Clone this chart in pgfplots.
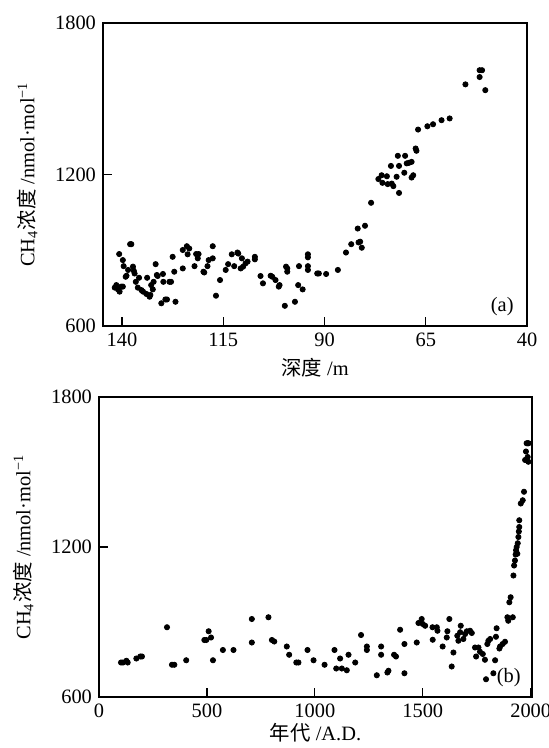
\documentclass[border=0pt]{standalone}
\usepackage{pgfplots}
\pgfplotsset{compat=1.18}
\usepackage{fontspec}
\setmainfont{Liberation Serif}
\newfontfamily\cjk{Noto Sans CJK SC}

\pgfplotsset{
  ch4/.style={
    scale only axis,
    tick align=inside,
    tick pos=left,
    major tick length=4.5pt,
    axis line style={line width=0.6pt},
    tick style={line width=0.6pt, black},
    ymin=600, ymax=1800,
    ytick={600,1200,1800},
    /pgf/number format/assume math mode=true,
    /pgf/number format/1000 sep={},
    tick label style={font=\fontsize{10.2}{12}\selectfont},
    label style={font=\fontsize{10.2}{12}\selectfont},
    ylabel={CH\textsubscript{4}{\cjk 浓度} /nmol·mol\textsuperscript{−1}},
    ylabel style={yshift=2pt},
    xlabel style={yshift=1pt},
  },
  dots/.style={only marks, mark=*, mark size=1.3pt, black},
}

\begin{document}
\begin{tikzpicture}
\useasboundingbox (0,0) rectangle (274.5pt,-374pt);

% (a) depth profile
\begin{axis}[ch4,
  at={(51.5pt,-163pt)}, anchor=south west,
  width=212pt, height=151.5pt,
  x dir=reverse, xmin=40, xmax=144.7,
  xtick={140,115,90,65,40},
  xlabel={{\cjk 深度} /m},
]
\addplot[dots] table {
x y
141.8 752
141.4 762
141.0 745
140.6 736
140.2 756
139.8 756
140.7 885
139.8 861
139.6 837
138.9 799
139.1 795
138.5 822
138.0 924
137.7 924
137.3 835
137.1 819
136.9 808
136.6 775
135.8 791
136.1 752
135.2 742
134.8 736
134.0 727
133.8 791
133.2 716
132.8 762
133.0 723
132.4 745
132.2 775
131.7 845
131.4 802
131.2 798
130.3 690
129.9 806
129.8 775
129.3 705
128.9 705
128.3 775
127.9 775
127.5 874
127.1 815
126.8 696
125.0 901
125.0 828
124.0 916
123.8 884
123.4 907
122.1 837
121.7 885
121.3 868
121.1 885
119.9 815
119.7 812
118.9 837
118.6 861
117.6 916
117.6 868
116.8 720
115.8 782
114.4 822
113.8 845
112.9 884
112.3 837
111.5 891
111.3 887
110.4 868
110.7 828
110.1 835
109.5 848
109.0 855
107.2 874
107.2 864
105.8 798
105.2 769
103.3 799
102.9 795
102.1 782
101.3 756
101.1 762
99.8 680
99.5 835
99.2 828
99.2 815
97.3 696
96.3 837
96.5 762
95.4 745
94.1 884
94.1 872
94.1 837
94.1 822
91.8 808
91.4 808
89.6 806
86.7 822
84.7 891
83.4 924
81.8 986
81.6 931
81.2 934
80.8 910
80.0 997
78.5 1088
76.7 1182
75.9 1197
75.7 1167
74.6 1193
74.4 1162
73.6 1234
73.4 1164
73.0 1154
72.2 1191
71.9 1274
71.6 1234
71.6 1127
70.3 1207
70.1 1274
69.7 1244
69.2 1246
68.5 1250
68.5 1188
68.1 1197
67.5 1303
67.3 1294
66.9 1378
64.6 1391
63.2 1399
61.1 1415
59.1 1422
55.2 1557
51.7 1613
51.1 1613
51.7 1586
50.3 1534
};
\node[anchor=south east, font=\fontsize{10.2}{12}\selectfont] at (rel axis cs:0.985,0.01) {(a)};
\end{axis}

% (b) age profile
\begin{axis}[ch4,
  at={(49.5pt,-348.5pt)}, anchor=south west,
  width=216.5pt, height=150pt,
  xmin=0, xmax=2006,
  xtick={0,500,1000,1500,2000},
  xlabel={{\cjk 年代} /A.D.},
  xlabel style={yshift=3pt},
]
\addplot[dots] table {
x y
102 738
111 738
127 745
133 738
173 754
191 762
199 762
315 879
338 729
349 729
404 747
488 828
497 828
508 863
519 838
528 747
574 788
623 788
708 912
708 818
785 919
801 828
812 822
870 802
881 769
914 738
924 738
966 788
994 747
1045 729
1091 788
1099 714
1117 754
1125 714
1148 707
1156 769
1187 738
1214 848
1241 802
1241 788
1287 687
1307 802
1307 769
1336 698
1341 705
1367 769
1376 762
1395 869
1415 812
1415 695
1472 818
1480 896
1495 912
1500 892
1511 885
1545 879
1546 829
1565 879
1568 865
1592 802
1611 838
1614 863
1623 912
1634 722
1642 778
1660 845
1665 825
1673 859
1676 885
1688 832
1696 852
1704 863
1719 865
1727 856
1742 798
1747 762
1758 798
1765 781
1778 772
1788 749
1793 671
1799 812
1804 825
1812 832
1827 695
1835 747
1839 841
1842 875
1855 794
1858 802
1870 812
1881 821
1892 919
1896 905
1901 979
1907 999
1917 919
1920 1086
1923 1126
1927 1146
1930 1170
1932 1187
1935 1200
1938 1173
1940 1215
1943 1240
1945 1262
1947 1280
1947 1307
1954 1374
1963 1387
1969 1421
1974 1548
1978 1582
1981 1615
1986 1615
1990 1615
1989 1541
1986 1560
};
\node[anchor=south east, font=\fontsize{10.2}{12}\selectfont] at (rel axis cs:0.99,0.01) {(b)};
\end{axis}
\end{tikzpicture}
\end{document}
